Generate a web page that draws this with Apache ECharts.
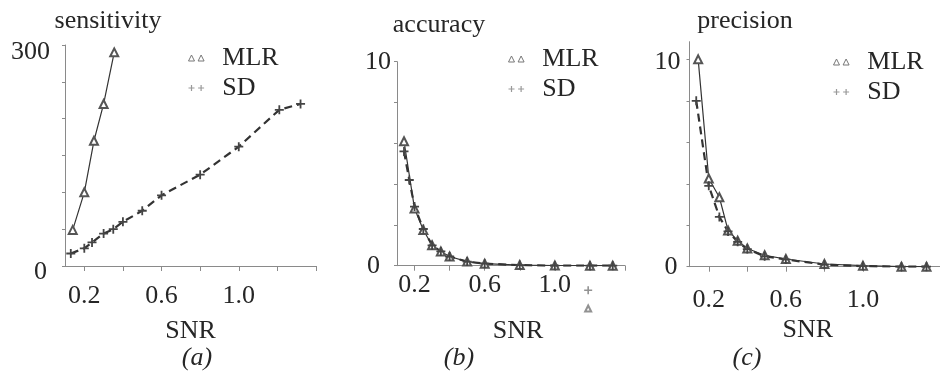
<!DOCTYPE html>
<html>
<head>
<meta charset="utf-8">
<script src="https://cdn.jsdelivr.net/npm/echarts@6/dist/echarts.min.js"></script>
<style>
  html, body { margin: 0; background: #fff; }
  #chart { width: 940px; height: 371px; }
</style>
</head>
<body>
<div id="chart"></div>
<script>
// (a) sensitivity
const sensMLR = [[0.14, 49], [0.2, 100], [0.25, 170], [0.3, 220], [0.355, 290]];
const sensSD = [[0.13, 17], [0.2, 24], [0.24, 32], [0.3, 44], [0.35, 50], [0.4, 60], [0.5, 75],
  [0.6, 96], [0.8, 124], [1.0, 162], [1.21, 212], [1.32, 220]];
// (b) accuracy
const accMLR = [[0.14, 6.1], [0.2, 2.8], [0.25, 1.75], [0.3, 1.0], [0.35, 0.7], [0.4, 0.45], [0.5, 0.2],
  [0.6, 0.1], [0.8, 0.03], [1.0, 0.01], [1.2, 0], [1.33, 0]];
const accSD = [[0.14, 5.6], [0.17, 4.2], [0.2, 2.9], [0.25, 1.8], [0.3, 1.0], [0.35, 0.7], [0.4, 0.45],
  [0.5, 0.2], [0.6, 0.1], [0.8, 0.03], [1.0, 0], [1.2, 0], [1.33, 0]];
// stray marks printed below the axis in (b)
const accStrayMLR = [[1.19, -2.1]];
const accStraySD = [[1.19, -1.2]];
// (c) precision
const precMLR = [[0.145, 10], [0.2, 4.25], [0.255, 3.35], [0.3, 1.75], [0.35, 1.25], [0.4, 0.88],
  [0.49, 0.55], [0.6, 0.37], [0.8, 0.13], [1.0, 0.05], [1.2, 0], [1.33, 0]];
const precSD = [[0.135, 8], [0.2, 3.9], [0.255, 2.4], [0.3, 1.7], [0.35, 1.2], [0.4, 0.85],
  [0.49, 0.5], [0.6, 0.35], [0.8, 0.1], [1.0, 0.03], [1.2, 0], [1.33, 0]];

const xTicks = [0.2, 0.4, 0.6, 0.8, 1.0, 1.2, 1.4];
const xLabels = [0.2, 0.6, 1.0];
const sensTicks = [0, 50, 100, 150, 200, 250, 300];
const sensLabels = [0, 300];
const rateTicks = [0, 2, 4, 6, 8, 10];
const rateLabels = [0, 10];

const FONT = "'Liberation Serif', 'Times New Roman', serif";
const TXT = "#262626";
const AX = "#8a8a8a";
const LINE = "#333";

const plusIcon = "path://M4,0H6V4H10V6H6V10H4V6H0V4H4Z";
const legendTri = "path://M0,10L5,0L10,10ZM16,10L21,0L26,10Z";
const legendPlus = "path://M4,0H6V4H10V6H6V10H4V6H0V4H4ZM20,0H22V4H26V6H22V10H20V6H16V4H20Z";

const textBase = { fontFamily: FONT, fontSize: 26, color: TXT };

const xAxisOf = (grid, label_margin, name_gap, name_pad) => ({
  type: "value",
  gridIndex: grid,
  min: 0.1,
  max: 1.4,
  name: "SNR",
  nameLocation: "middle",
  nameGap: name_gap,
  nameTextStyle: Object.assign({ padding: name_pad }, textBase),
  axisLine: { lineStyle: { color: AX, width: 1 } },
  axisTick: { customValues: xTicks, length: 5, lineStyle: { color: AX } },
  axisLabel: Object.assign({ customValues: xLabels, margin: label_margin,
    formatter: (v) => v.toFixed(1) }, textBase),
  splitLine: { show: false }
});

// lo / hi: rich padding for the bottom and top labels
const yAxisOf = (grid, max, ticks, labels, margin, lo, hi) => ({
  type: "value",
  gridIndex: grid,
  min: 0,
  max: max,
  axisLine: { show: true, lineStyle: { color: AX, width: 1 } },
  axisTick: { show: true, customValues: ticks, length: 3, lineStyle: { color: AX } },
  axisLabel: Object.assign({
    customValues: labels, margin: margin,
    formatter: (v) => (v === 0 ? "{lo|" + v + "}" : "{hi|" + v + "}"),
    rich: {
      lo: Object.assign({ padding: lo }, textBase),
      hi: Object.assign({ padding: hi }, textBase)
    }
  }, textBase),
  splitLine: { show: false }
});

const mlrSerie = (i, data) => ({
  name: "MLR", type: "line", xAxisIndex: i, yAxisIndex: i, data,
  symbol: "emptyTriangle", symbolSize: 8,
  lineStyle: { color: LINE, width: 1.2 },
  itemStyle: { color: "#555", borderWidth: 1 }
});

const sdSerie = (i, data) => ({
  name: "SD", type: "line", xAxisIndex: i, yAxisIndex: i, data,
  symbol: plusIcon, symbolSize: 9,
  lineStyle: { color: LINE, width: 2.2, type: [8, 5] },
  itemStyle: { color: "#444" }
});

const legendOf = (left, top) => ({
  orient: "vertical", left, top, itemGap: 4, itemWidth: 18, itemHeight: 6,
  textStyle: Object.assign({ padding: [0, 0, 0, 12] }, textBase),
  data: [
    { name: "MLR", icon: legendTri, itemStyle: { color: "#fff", borderColor: "#777", borderWidth: 1 } },
    { name: "SD", icon: legendPlus, itemStyle: { color: "#999", borderWidth: 0 } }
  ]
});

const titleOf = (text, left, top, italic) => ({
  text, left, top, textAlign: "center", padding: 0,
  textStyle: Object.assign({ fontWeight: "normal", fontStyle: italic ? "italic" : "normal" }, textBase)
});

const chart = echarts.init(document.getElementById("chart"));
chart.setOption({
  animation: false,
  title: [
    titleOf("sensitivity", 108, 8),
    titleOf("accuracy", 439, 12),
    titleOf("precision", 745, 8),
    titleOf("(a)", 197, 345, true),
    titleOf("(b)", 459, 345, true),
    titleOf("(c)", 747, 345, true)
  ],
  legend: [legendOf(183, 40), legendOf(503, 41), legendOf(828, 44)],
  grid: [
    { left: 65, top: 45, width: 251, height: 221 },
    { left: 397, top: 61.7, width: 228, height: 204 },
    { left: 689.5, top: 41.7, width: 253.5, height: 225 }
  ],
  xAxis: [
    xAxisOf(0, 17, 52, 0),
    xAxisOf(1, 6, 52, [0, 0, 0, 14]),
    xAxisOf(2, 20, 43, [0, 14, 0, 0])
  ],
  yAxis: [
    yAxisOf(0, 300, sensTicks, sensLabels, 15, [12, 3, 0, 0], [14, 0, 0, 0]),
    yAxisOf(1, 10, rateTicks, rateLabels, 6, [0, 11, 0, 0], [0, 0, 0, 0]),
    yAxisOf(2, 10.85, rateTicks, rateLabels, 9, [0, 3, 0, 0], [5, 0, 0, 0])
  ],
  series: [
    mlrSerie(0, sensMLR), sdSerie(0, sensSD),
    mlrSerie(1, accMLR), sdSerie(1, accSD),
    mlrSerie(2, precMLR), sdSerie(2, precSD),
    { name: "MLR", type: "scatter", xAxisIndex: 1, yAxisIndex: 1, data: accStrayMLR, clip: false,
      symbol: "emptyTriangle", symbolSize: 6, itemStyle: { color: "#777", borderWidth: 1 } },
    { name: "SD", type: "scatter", xAxisIndex: 1, yAxisIndex: 1, data: accStraySD, clip: false,
      symbol: plusIcon, symbolSize: 8, itemStyle: { color: "#777" } }
  ]
});
</script>
</body>
</html>
